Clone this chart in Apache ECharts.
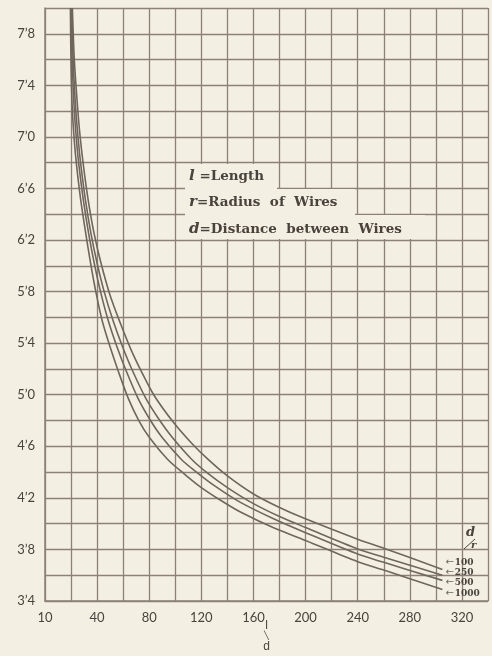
<!DOCTYPE html>
<html><head><meta charset="utf-8">
<script src="https://cdn.jsdelivr.net/npm/echarts@6/dist/echarts.min.js"></script>
<style>html,body{margin:0;padding:0;background:#f3efe3}#c{width:492px;height:656px}</style>
</head><body><div id="c"></div>
<script>
// d/r ratios (series names)
const ratioNames = ['100', '250', '500', '1000'];
// x tick labels (value -> printed text)
const xTickLabels = { 0: '10', 40: '40', 80: '80', 120: '120', 160: '160', 200: '200', 240: '240', 280: '280', 320: '320' };
// curves: l/d (x) and ordinate (y)
const x100  = [21, 22.5, 24.5, 26.5, 29.2, 33, 37.5, 43, 50, 58, 66, 74, 84, 99, 112, 125, 140, 160, 180, 198, 241, 260, 305];
const y100  = [8.0, 7.6, 7.3, 7.05, 6.8, 6.52, 6.26, 6.02, 5.77, 5.55, 5.35, 5.18, 4.99, 4.78, 4.63, 4.50, 4.37, 4.23, 4.125, 4.045, 3.875, 3.81, 3.645];
const x250  = [20.45, 21.8, 23.7, 25.6, 27.3, 30.9, 35.3, 40.0, 45.4, 52.4, 59.6, 67.0, 77.5, 88.1, 97.6, 112.5, 125, 140, 160, 180, 200, 241, 260, 305];
const y250  = [8.0, 7.55, 7.2, 6.97, 6.8, 6.52, 6.25, 6.02, 5.80, 5.57, 5.37, 5.19, 4.97, 4.80, 4.67, 4.50, 4.39, 4.28, 4.155, 4.055, 3.97, 3.80, 3.74, 3.60];
const x500  = [20.0, 21.0, 22.5, 24.2, 25.8, 29.3, 33.5, 37.8, 42.6, 48.7, 55.3, 62.1, 71.5, 81.0, 89.8, 104.5, 115, 130, 150, 175, 200, 241, 260, 305];
const y500  = [8.0, 7.55, 7.2, 6.97, 6.8, 6.52, 6.25, 6.02, 5.80, 5.57, 5.37, 5.19, 4.97, 4.80, 4.67, 4.50, 4.41, 4.295, 4.165, 4.04, 3.93, 3.76, 3.70, 3.56];
const x1000 = [19.5, 20, 21, 22.5, 24, 27.3, 31.3, 35, 39, 44, 50, 56, 64, 72, 80, 94, 107, 120, 135, 150, 175, 200, 240, 260, 305];
const y1000 = [8.0, 7.55, 7.2, 6.97, 6.8, 6.52, 6.25, 6.02, 5.80, 5.57, 5.37, 5.19, 4.97, 4.80, 4.67, 4.50, 4.385, 4.28, 4.18, 4.09, 3.97, 3.87, 3.705, 3.64, 3.49];
// legend text
const noteLines = [['l', ' =Length'], ['r', '=Radius  of  Wires'], ['d', '=Distance  between  Wires']];

const BG = '#f3efe3', GRID = '#8c8078', INK = '#4a433d', CURVE = '#6f665d';
const xs = [x100, x250, x500, x1000], ys = [y100, y250, y500, y1000];
const labelDy = [-7, -3, 2, 4];

const chart = echarts.init(document.getElementById('c'));
const series = ratioNames.map((n, i) => ({
  name: n, type: 'line', smooth: 0.3, symbol: 'none', clip: true,
  lineStyle: { color: CURVE, width: 1.6 },
  data: xs[i].map((x, j) => [x, ys[i][j]]),
  endLabel: {
    show: true, distance: 3, offset: [0, labelDy[i]],
    formatter: '{a|\u2190}{b|' + n + '}',
    rich: {
      a: { fontSize: 10, color: CURVE, fontFamily: 'DejaVu Sans' },
      b: { fontSize: 9, fontWeight: 'bold', color: INK, fontFamily: 'DejaVu Serif', padding: [0, 0, 0, 1] }
    }
  }
}));

const graphic = [];
const boxes = [[185, 164, 92, 25], [185, 189, 170, 26], [185, 215, 240, 24]];
boxes.forEach(b => graphic.push({ type: 'rect', shape: { x: b[0], y: b[1], width: b[2], height: b[3] }, style: { fill: BG }, z: 10 }));
noteLines.forEach((ln, i) => {
  graphic.push({
    type: 'text', x: 189, y: 176 + i * 26.5, z: 11,
    style: {
      text: '{v|' + ln[0] + '}{t|' + ln[1] + '}', verticalAlign: 'middle',
      rich: {
        v: { font: 'italic bold 15px "DejaVu Serif"', fill: INK },
        t: { font: 'bold 13.5px "DejaVu Serif"', fill: INK }
      }
    }
  });
});
// d/r header above ratio labels
graphic.push({ type: 'text', x: 466, y: 526, z: 11, style: { text: 'd', font: 'italic bold 13px "DejaVu Serif"', fill: INK } });
graphic.push({ type: 'line', shape: { x1: 464, y1: 549, x2: 475, y2: 539 }, style: { stroke: INK, lineWidth: 1 }, z: 11 });
graphic.push({ type: 'text', x: 471, y: 540, z: 11, style: { text: 'r', font: 'italic bold 10px "DejaVu Serif"', fill: INK } });

chart.setOption({
  backgroundColor: BG,
  animation: false,
  grid: { left: 45, right: 4, top: 8, bottom: 55, containLabel: false, outerBoundsMode: 'none' },
  xAxis: {
    type: 'value', min: 0, max: 340, interval: 20,
    axisLine: { show: true, lineStyle: { color: GRID, width: 1.5 } },
    axisTick: { show: false },
    splitLine: { show: true, lineStyle: { color: GRID, width: 1.3 } },
    axisLabel: {
      margin: 10, fontSize: 13, color: INK, fontFamily: 'Lato',
      formatter: v => xTickLabels[v] !== undefined ? xTickLabels[v] : ''
    },
    name: '{l|l}\n{s|\u2572}\n{d|d}', nameLocation: 'middle', nameGap: 20, nameMoveOverlap: false,
    nameTextStyle: {
      verticalAlign: 'top',
      rich: {
        l: { font: 'bold 12px "DejaVu Serif"', color: INK, lineHeight: 10, align: 'center' },
        s: { fontSize: 8, color: INK, lineHeight: 10, align: 'center' },
        d: { font: 'italic bold 13px "DejaVu Serif"', color: INK, lineHeight: 12, align: 'center' }
      }
    }
  },
  yAxis: {
    type: 'value', min: 3.4, max: 8.0, interval: 0.2,
    axisLine: { show: true, lineStyle: { color: GRID, width: 1.5 } },
    axisTick: { show: false },
    splitLine: { show: true, lineStyle: { color: GRID, width: 1.3 } },
    axisLabel: {
      margin: 10, fontSize: 13, color: INK, fontFamily: 'Lato',
      formatter: v => { const k = Math.round((v - 3.4) / 0.2); return k % 2 === 0 ? v.toFixed(1).replace('.', '\u2019') : ''; }
    }
  },
  graphic: graphic,
  series: series
});
</script></body></html>
